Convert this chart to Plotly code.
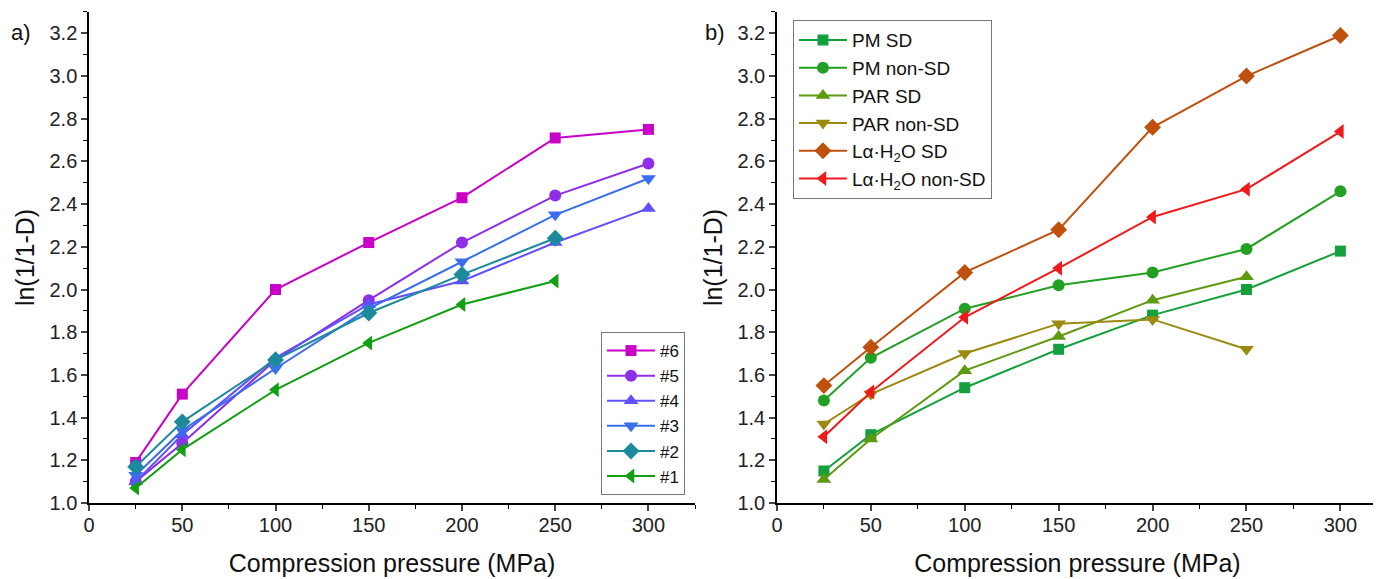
import plotly.graph_objects as go

pressure = [25, 50, 100, 150, 200, 250, 300]

# Panel a
a_names = ["#6", "#5", "#4", "#3", "#2", "#1"]
a_6 = [1.19, 1.51, 2.00, 2.22, 2.43, 2.71, 2.75]
a_5 = [1.10, 1.28, 1.67, 1.95, 2.22, 2.44, 2.59]
a_4 = [1.10, 1.32, 1.68, 1.93, 2.04, 2.22, 2.38]
a_3 = [1.13, 1.34, 1.63, 1.91, 2.13, 2.35, 2.52]
a_2 = [1.17, 1.38, 1.67, 1.89, 2.07, 2.24]
a_1 = [1.07, 1.25, 1.53, 1.75, 1.93, 2.04]

# Panel b
b_names = ["PM SD", "PM non-SD", "PAR SD", "PAR non-SD",
           "Lα·H<sub>2</sub>O SD", "Lα·H<sub>2</sub>O non-SD"]
b_pm_sd = [1.15, 1.32, 1.54, 1.72, 1.88, 2.00, 2.18]
b_pm_nonsd = [1.48, 1.68, 1.91, 2.02, 2.08, 2.19, 2.46]
b_par_sd = [1.11, 1.30, 1.62, 1.78, 1.95, 2.06]
b_par_nonsd = [1.37, 1.51, 1.70, 1.84, 1.86, 1.72]
b_la_sd = [1.55, 1.73, 2.08, 2.28, 2.76, 3.00, 3.19]
b_la_nonsd = [1.31, 1.52, 1.87, 2.10, 2.34, 2.47, 2.74]

a_series = [a_6, a_5, a_4, a_3, a_2, a_1]
a_colors = ["#C800C8", "#8E2EE6", "#6050FF", "#3A6EEE", "#1A8A9C", "#12A012"]
symbols = ["square", "circle", "triangle-up", "triangle-down", "diamond", "triangle-left"]
sizes = [11, 12, 13, 13, 13, 13]

b_series = [b_pm_sd, b_pm_nonsd, b_par_sd, b_par_nonsd, b_la_sd, b_la_nonsd]
b_colors = ["#14A03C", "#22A022", "#5E9A10", "#9A8A10", "#C0500E", "#F01A1A"]

fig = go.Figure()
for name, ys, c, s, sz in zip(a_names, a_series, a_colors, symbols, sizes):
    fig.add_trace(go.Scatter(x=pressure[:len(ys)], y=ys, name=name, mode="lines+markers",
                             line=dict(color=c, width=2), marker=dict(symbol=s, size=sz, color=c),
                             xaxis="x", yaxis="y", legend="legend"))
for name, ys, c, s, sz in zip(b_names, b_series, b_colors, symbols, sizes):
    fig.add_trace(go.Scatter(x=pressure[:len(ys)], y=ys, name=name, mode="lines+markers",
                             line=dict(color=c, width=2), marker=dict(symbol=s, size=sz, color=c),
                             xaxis="x2", yaxis="y2", legend="legend2"))

font_family = "Liberation Sans, Arial, sans-serif"
xcommon = dict(range=[0, 325], tick0=0, dtick=50, ticks="outside", ticklen=6, tickwidth=1.5,
               showline=True, linecolor="black", linewidth=1.5, showgrid=False, zeroline=False,
               automargin=False, ticklabelstandoff=-3,
               tickfont=dict(size=20, color="#222"),
               minor=dict(dtick=25, ticks="outside", ticklen=4, tickcolor="black", tickwidth=1),
               title=dict(text="Compression pressure (MPa)", font=dict(size=25, color="#111"), standoff=20))
ycommon = dict(range=[1.0, 3.3], tick0=1.0, dtick=0.2, tickformat=".1f", ticks="outside", ticklen=6,
               tickwidth=1.5, showline=True, linecolor="black", linewidth=1.5, showgrid=False,
               zeroline=False, automargin=False, tickfont=dict(size=20, color="#222"),
               minor=dict(dtick=0.1, ticks="outside", ticklen=4, tickcolor="black", tickwidth=1),
               title=dict(text="ln(1/1-D)", font=dict(size=25, color="#111"), standoff=8))

fig.update_layout(
    width=1381, height=579,
    margin=dict(l=0, r=0, t=0, b=0, autoexpand=False),
    paper_bgcolor="white", plot_bgcolor="white",
    font=dict(family=font_family, color="#111"),
    xaxis=dict(xcommon, domain=[0.0587, 0.4975], anchor="y"),
    yaxis=dict(ycommon, domain=[0.1451, 0.9931], anchor="x"),
    xaxis2=dict(xcommon, domain=[0.5568, 0.992], anchor="y2", range=[0, 320]),
    yaxis2=dict(ycommon, domain=[0.1451, 0.9931], anchor="x2"),
    legend=dict(x=0.4294, y=0.4404, xanchor="left", yanchor="top", bgcolor="white",
                bordercolor="#777", borderwidth=1, font=dict(size=17), tracegroupgap=0,
                itemwidth=48),
    legend2=dict(x=0.5684, y=0.979, xanchor="left", yanchor="top", bgcolor="white",
                 bordercolor="#777", borderwidth=1, font=dict(size=19), tracegroupgap=0,
                 itemwidth=48),
    annotations=[
        dict(text="a)", x=0.001, y=0.957, xref="paper", yref="paper", showarrow=False,
             xanchor="left", yanchor="middle", font=dict(size=22, color="#111")),
        dict(text="b)", x=0.503, y=0.957, xref="paper", yref="paper", showarrow=False,
             xanchor="left", yanchor="middle", font=dict(size=22, color="#111")),
    ],
)

fig.write_html("out.html")
